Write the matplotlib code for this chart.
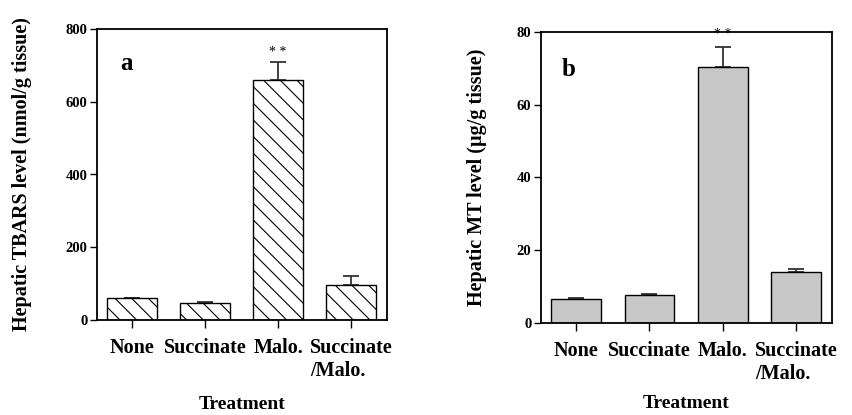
import numpy as np
import matplotlib.pyplot as plt

plt.rcParams['font.family'] = ['Liberation Serif', 'DejaVu Serif']
plt.rcParams['hatch.linewidth'] = 0.8

treatments = ['None', 'Succinate', 'Malo.', 'Succinate\n/Malo.']

tbars = [60, 48, 660, 95]
tbars_err = [0, 2, 48, 25]

mt = [6.5, 7.6, 70.5, 14.0]
mt_err = [0.3, 0.4, 5.5, 0.8]

fig = plt.figure(figsize=(8.52, 4.15), dpi=100)
W, H = 852., 415.

def panel(box, vals, errs, ymax, step, ylabel, letter, star_y, hatch, color, letter_pos, ypad, xpad):
    l, t, r, b = box
    ax = fig.add_axes([l / W, 1 - b / H, (r - l) / W, (b - t) / H])
    x = np.arange(len(vals))
    ax.bar(x, vals, width=0.68, color=color, edgecolor='black', linewidth=1.0,
           hatch=hatch, zorder=2)
    ax.errorbar(x, vals, yerr=[np.zeros(len(errs)), errs], fmt='none',
                ecolor='#333333', elinewidth=1.3, capsize=6, capthick=1.3, zorder=1)
    ax.set_xlim(-0.48, 3.49)
    ax.set_ylim(0, ymax)
    ax.set_yticks(np.arange(0, ymax + 1, step))
    ax.set_xticks(x)
    ax.set_xticklabels(treatments, fontsize=14.5, fontweight='bold', multialignment='left')
    for lab in ax.get_yticklabels():
        lab.set_fontsize(10.5)
        lab.set_fontweight('bold')
    ax.tick_params(axis='both', direction='out', length=5, width=1.0, pad=2)
    ax.tick_params(axis='x', length=6, pad=7)
    for s in ax.spines.values():
        s.set_linewidth(1.3)
    ax.set_ylabel(ylabel, fontsize=14.5, fontweight='bold', labelpad=ypad)
    ax.set_xlabel('Treatment', fontsize=14, fontweight='bold', labelpad=xpad)
    ax.text(2, star_y, '* *', ha='center', va='center', fontsize=10)
    ax.text(letter_pos[0], letter_pos[1], letter, transform=ax.transAxes,
            fontsize=18, fontweight='bold', ha='left', va='center')
    return ax

panel((97, 29, 387, 320), tbars, tbars_err, 800, 200,
      'Hepatic TBARS level (nmol/g tissue)', 'a', 735, '\\\\', 'white', (0.08, 0.88), 24, 11)
panel((541, 32, 832, 323), mt, mt_err, 80, 20,
      'Hepatic MT level (\u00b5g/g tissue)', 'b', 79.2, None, '#c8c8c8', (0.07, 0.87), 21, 8)

fig.savefig('out.png', dpi=100)
